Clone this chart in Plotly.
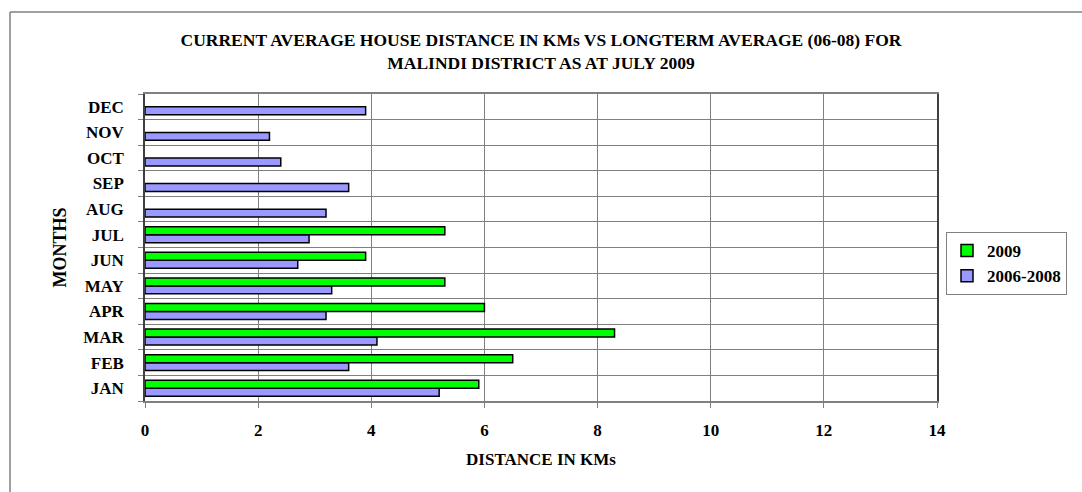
import plotly.graph_objects as go

months = ["JAN", "FEB", "MAR", "APR", "MAY", "JUN", "JUL", "AUG", "SEP", "OCT", "NOV", "DEC"]
values_2009 = [5.9, 6.5, 8.3, 6.0, 5.3, 3.9, 5.3, None, None, None, None, None]
values_0608 = [5.2, 3.6, 4.1, 3.2, 3.3, 2.7, 2.9, 3.2, 3.6, 2.4, 2.2, 3.9]
x_ticks = [0, 2, 4, 6, 8, 10, 12, 14]

FONT = "Liberation Serif"
W, H = 1082, 492
L, R, T, B = 145, 145, 94, 91
PW, PH = W - L - R, H - T - B


def px_x(p):
    return (p - L) / PW


def px_y(p):
    return (H - B - p) / PH


fig = go.Figure()
fig.add_trace(go.Bar(
    y=months, x=values_0608, orientation="h", name="<b>2006-2008</b>",
    marker=dict(color="#9999FF", line=dict(color="#000000", width=1.5)),
))
fig.add_trace(go.Bar(
    y=months, x=values_2009, orientation="h", name="<b>2009</b>",
    marker=dict(color="#00FF00", line=dict(color="#000000", width=1.5)),
))

fig.update_layout(
    width=W, height=H,
    margin=dict(l=L, r=R, t=T, b=B),
    paper_bgcolor="white", plot_bgcolor="white",
    barmode="group", bargap=0.38, bargroupgap=0,
    font=dict(family=FONT, color="black"),
    title=dict(
        text="<b>CURRENT AVERAGE HOUSE DISTANCE IN KMs VS LONGTERM AVERAGE (06-08) FOR<br>MALINDI DISTRICT AS AT JULY 2009</b>",
        x=0.5, xref="paper", xanchor="center", y=1 - 46 / H, yref="container", yanchor="middle",
        font=dict(family=FONT, size=17.5, color="black"),
    ),
    xaxis=dict(
        range=[0, 14], tickvals=x_ticks, ticktext=[f"<b>{v}</b>" for v in x_ticks],
        showgrid=True, gridcolor="#808080", gridwidth=1,
        showline=True, linecolor="#808080", linewidth=1.5, mirror=True,
        ticks="outside", ticklen=5, tickcolor="#808080",
        ticklabelstandoff=8,
        tickfont=dict(family=FONT, size=17, color="black"),
        title=dict(text="<b>DISTANCE IN KMs</b>", standoff=14,
                   font=dict(family=FONT, size=17, color="black")),
        zeroline=False, automargin=False,
    ),
    yaxis=dict(
        type="category", categoryorder="array", categoryarray=months,
        tickvals=months, ticktext=[f"<b>{m}</b>" for m in months],
        tickson="boundaries",
        showgrid=True, gridcolor="#808080", gridwidth=1,
        showline=True, linecolor="#404040", linewidth=1.5, mirror=True,
        ticks="outside", ticklen=5, tickcolor="#808080",
        ticklabelstandoff=16,
        tickfont=dict(family=FONT, size=17, color="black"),
        title=dict(text="<b>MONTHS</b>", standoff=12,
                   font=dict(family=FONT, size=18, color="black")),
        automargin=False,
    ),
    legend=dict(
        x=px_x(946), xanchor="left", y=px_y(232), yanchor="top",
        traceorder="reversed",
        bordercolor="#808080", borderwidth=1, bgcolor="white",
        font=dict(family=FONT, size=17, color="black"),
        itemwidth=30, tracegroupgap=0,
    ),
    showlegend=True,
    shapes=[
        dict(type="line", xref="paper", yref="paper", x0=px_x(10), x1=px_x(W),
             y0=px_y(12), y1=px_y(12), line=dict(color="#808080", width=1.5)),
        dict(type="line", xref="paper", yref="paper", x0=px_x(10), x1=px_x(10),
             y0=px_y(12), y1=px_y(H), line=dict(color="#808080", width=1.5)),
    ],
)

fig.write_html(
    "out.html",
    config={"displayModeBar": False},
    post_script="document.body.style.margin='0';document.body.style.padding='0';",
)
